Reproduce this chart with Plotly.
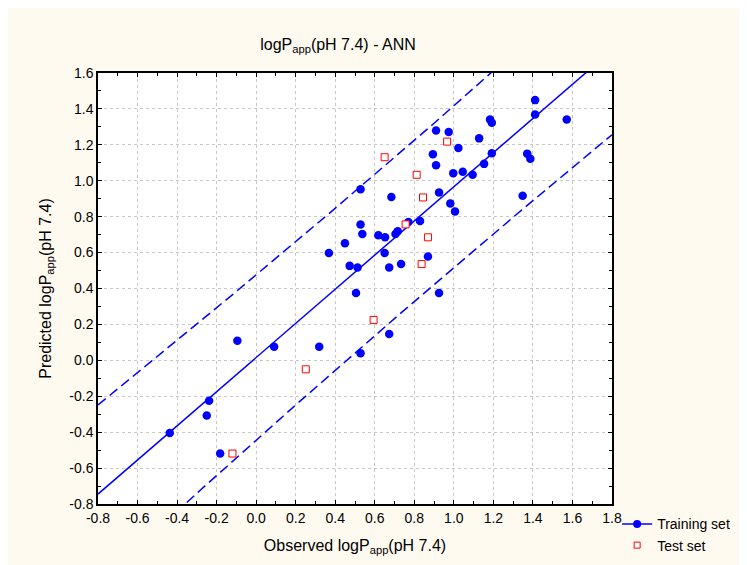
import numpy as np
import plotly.graph_objects as go

# Training set: observed vs predicted
train_obs = [1.411, 1.411, 1.571, 1.183, 1.192, 0.910, 0.974, 1.128, 1.023, 0.894,
             1.192, 0.910, 1.371, 1.387, 0.997, 1.045, 1.095, 1.153, 0.528, 0.684,
             0.925, 0.982, 1.006, 1.348, 0.528, 0.829, 0.716, 0.537, 0.449, 0.618,
             0.652, 0.705, 0.368, 0.650, 0.473, 0.513, 0.673, 0.733, 0.869, 0.505,
             0.925, 0.673, 0.319, 0.528, -0.095, 0.091, -0.238, -0.250, -0.437, -0.182,
             0.770]
train_pred = [1.449, 1.369, 1.341, 1.341, 1.323, 1.280, 1.271, 1.236, 1.183, 1.147,
              1.153, 1.086, 1.151, 1.122, 1.042, 1.050, 1.033, 1.094, 0.953, 0.909,
              0.935, 0.874, 0.829, 0.916, 0.757, 0.776, 0.719, 0.704, 0.652, 0.696,
              0.685, 0.704, 0.598, 0.598, 0.526, 0.517, 0.517, 0.536, 0.578, 0.375,
              0.375, 0.146, 0.076, 0.039, 0.109, 0.076, -0.225, -0.307, -0.405, -0.519,
              0.770]

# Test set
test_obs = [0.650, 0.966, 0.812, 0.844, 0.756, 0.869, 0.837, 0.594, 0.251, -0.120]
test_pred = [1.131, 1.218, 1.033, 0.907, 0.757, 0.685, 0.536, 0.225, -0.050, -0.519]

tick_vals = [round(-0.8 + 0.2 * i, 1) for i in range(14)]
ytick_vals = [round(-0.8 + 0.2 * i, 1) for i in range(13)]
T_VALUE = 2.01  # 95% two-sided, df ~ 49

# Regression of predicted on observed (training set) with 95% prediction band
xo = np.array(train_obs)
yp = np.array(train_pred)
n = len(xo)
b, a = np.polyfit(xo, yp, 1)
resid = yp - (a + b * xo)
s = np.sqrt(np.sum(resid ** 2) / (n - 2))
xm = xo.mean()
sxx = np.sum((xo - xm) ** 2)
xs = np.linspace(-0.8, 1.8, 200)
yfit = a + b * xs
half = T_VALUE * s * np.sqrt(1 + 1 / n + (xs - xm) ** 2 / sxx)

BLUE = "#0000FF"
RED = "#FF0000"

fig = go.Figure()
fig.add_trace(go.Scatter(x=xs, y=yfit, mode="lines", line=dict(color=BLUE, width=1.5),
                         showlegend=False, hoverinfo="skip"))
fig.add_trace(go.Scatter(x=xs, y=yfit + half, mode="lines",
                         line=dict(color=BLUE, width=1.5, dash="10px,5px"),
                         showlegend=False, hoverinfo="skip"))
fig.add_trace(go.Scatter(x=xs, y=yfit - half, mode="lines",
                         line=dict(color=BLUE, width=1.5, dash="10px,5px"),
                         showlegend=False, hoverinfo="skip"))
fig.add_trace(go.Scatter(x=train_obs, y=train_pred, mode="markers",
                         marker=dict(color=BLUE, size=8.5, symbol="circle"),
                         showlegend=False, name="Training set"))
fig.add_trace(go.Scatter(x=test_obs, y=test_pred, mode="markers",
                         marker=dict(color="white", size=7, symbol="square",
                                     line=dict(color=RED, width=1)),
                         showlegend=False, name="Test set"))
# legend entries
fig.add_trace(go.Scatter(x=[None], y=[None], mode="lines+markers", name="Training set",
                         line=dict(color=BLUE, width=1.5),
                         marker=dict(color=BLUE, size=8)))
fig.add_trace(go.Scatter(x=[None], y=[None], mode="markers", name="Test set",
                         marker=dict(color="white", size=6, symbol="square",
                                     line=dict(color=RED, width=1))))

FONT = "Liberation Sans, Arial, sans-serif"
axis_common = dict(
    showline=True, linecolor="black", linewidth=1.5, mirror="ticks",
    ticks="inside", ticklen=4, tickwidth=1.2, tickcolor="black",
    showgrid=True, gridcolor="#C8C8C8", griddash="dot", gridwidth=1,
    zeroline=False, tickfont=dict(family=FONT, size=14, color="black"),
    minor=dict(ticks="inside", ticklen=3, tickcolor="black", dtick=0.1, showgrid=False),
)
fig.update_layout(
    width=747, height=565,
    paper_bgcolor="#FFFAF0", plot_bgcolor="white",
    margin=dict(l=90, r=143, t=65, b=67),
    font=dict(family=FONT, color="black"),
    title=dict(text="logP<sub>app</sub>(pH 7.4) - ANN", x=330 / 747, xanchor="center",
               y=1 - 36 / 565, yanchor="middle", font=dict(family=FONT, size=16)),
    xaxis=dict(range=[-0.8, 1.8], tickvals=tick_vals, ticktext=[f"{v:.1f}" for v in tick_vals],
               title=dict(text="Observed logP<sub>app</sub>(pH 7.4)", font=dict(family=FONT, size=16),
                          standoff=15),
               **axis_common),
    yaxis=dict(range=[-0.8, 1.6], tickvals=ytick_vals, ticktext=[f"{v:.1f}" for v in ytick_vals],
               title=dict(text="Predicted logP<sub>app</sub>(pH 7.4)", font=dict(family=FONT, size=16),
                          standoff=14),
               **axis_common),
    legend=dict(x=1.01, y=-0.01, xanchor="left", yanchor="top", bgcolor="rgba(0,0,0,0)",
                font=dict(family=FONT, size=14), tracegroupgap=0, itemwidth=30),
)
fig.write_html("out.html")
